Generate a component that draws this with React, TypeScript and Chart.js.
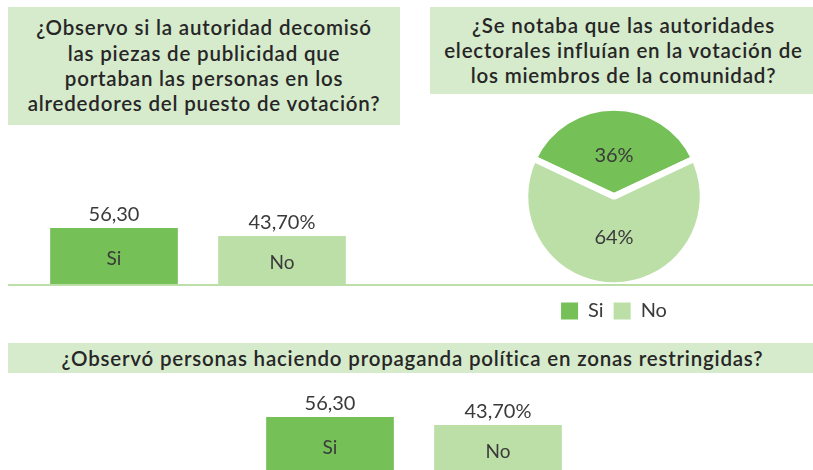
import React, { useEffect, useRef } from "react";
import { Chart, registerables } from "chart.js";

Chart.register(...registerables);

// ---------- data ----------
const barCategories = ["Si", "No"];
const decomisoValues = [56.3, 43.7];
const decomisoLabels = ["56,30", "43,70%"];
const propagandaValues = [56.3, 43.7];
const propagandaLabels = ["56,30", "43,70%"];
const pieCategories = ["Si", "No"];
const influenciaValues = [36, 64];
const influenciaLabels = ["36%", "64%"];

const titleDecomiso = [
  "¿Observo si la autoridad decomisó",
  "las piezas de publicidad que",
  "portaban las personas en los",
  "alrededores del puesto de votación?",
];
const titleInfluencia = [
  "¿Se notaba que las autoridades",
  "electorales influían en la votación de",
  "los miembros de la comunidad?",
];
const titlePropaganda = [
  "¿Observó personas haciendo propaganda política en zonas restringidas?",
];

// ---------- style ----------
const SI_COLOR = "#76C058";
const NO_COLOR = "#BCDFA8";
const TITLE_BG = "#D6EACC";
const TITLE_COLOR = "#262626";
const LABEL_COLOR = "#3A3A3A";
const FONT = "Lato, 'DejaVu Sans', sans-serif";

const AXIS_MIN = -33.5;
const AXIS_MAX = 210.7;

function makeBarLabelPlugin(categories: string[], valueLabels: string[]) {
  return {
    id: "barLabels",
    afterDatasetsDraw(chart: any) {
      const ctx = chart.ctx;
      const meta = chart.getDatasetMeta(0);
      meta.data.forEach((bar: any, i: number) => {
        const { x, y, base } = bar.getProps(["x", "y", "base"], true);
        ctx.save();
        ctx.fillStyle = LABEL_COLOR;
        ctx.textAlign = "center";
        ctx.textBaseline = "middle";
        ctx.font = `20px ${FONT}`;
        ctx.fillText(valueLabels[i], x, y - 13.5);
        ctx.font = `19px ${FONT}`;
        ctx.fillText(categories[i], x, (y + base) / 2 + 2.5);
        ctx.restore();
      });
    },
  };
}

function makePieLabelPlugin(labels: string[]) {
  return {
    id: "pieLabels",
    afterDatasetsDraw(chart: any) {
      const ctx = chart.ctx;
      const meta = chart.getDatasetMeta(0);
      meta.data.forEach((arc: any, i: number) => {
        const { x, y, startAngle, endAngle, outerRadius } = arc.getProps(
          ["x", "y", "startAngle", "endAngle", "outerRadius"],
          true
        );
        const mid = (startAngle + endAngle) / 2;
        const r = outerRadius * 0.46;
        ctx.save();
        ctx.fillStyle = LABEL_COLOR;
        ctx.textAlign = "center";
        ctx.textBaseline = "middle";
        ctx.font = `20px ${FONT}`;
        ctx.fillText(labels[i], x + Math.cos(mid) * r, y + Math.sin(mid) * r);
        ctx.restore();
      });
    },
  };
}

function BarChart(props: {
  values: number[];
  labels: string[];
  left: number;
  top: number;
}) {
  const ref = useRef<HTMLCanvasElement>(null);
  useEffect(() => {
    if (!ref.current) return;
    const chart = new Chart(ref.current, {
      type: "bar",
      data: {
        labels: barCategories,
        datasets: [
          {
            data: props.values,
            backgroundColor: [SI_COLOR, NO_COLOR],
            borderWidth: 0,
            base: AXIS_MIN,
            categoryPercentage: 1,
            barPercentage: 0.76,
          } as any,
        ],
      },
      options: {
        responsive: false,
        animation: false,
        layout: { padding: { left: 0, right: 0, top: 0, bottom: 5 } },
        scales: {
          x: { display: false },
          y: { display: false, min: AXIS_MIN, max: AXIS_MAX },
        },
        plugins: { legend: { display: false }, tooltip: { enabled: false } },
      },
      plugins: [makeBarLabelPlugin(barCategories, props.labels)],
    });
    return () => chart.destroy();
  }, []);
  return (
    <canvas
      ref={ref}
      width={336}
      height={160}
      style={{ position: "absolute", left: props.left, top: props.top, width: 336, height: 160 }}
    />
  );
}

function PieChart() {
  const ref = useRef<HTMLCanvasElement>(null);
  useEffect(() => {
    if (!ref.current) return;
    const total = influenciaValues.reduce((a, b) => a + b, 0);
    const chart = new Chart(ref.current, {
      type: "pie",
      data: {
        labels: pieCategories,
        datasets: [
          {
            data: influenciaValues,
            backgroundColor: [SI_COLOR, NO_COLOR],
            borderColor: "#FFFFFF",
            borderWidth: 6.5,
          },
        ],
      },
      options: {
        responsive: false,
        animation: false,
        rotation: -(influenciaValues[0] / total) * 180,
        radius: 89,
        layout: { padding: { left: 5, top: 4 } },
        plugins: {
          legend: {
            position: "bottom",
            labels: {
              boxWidth: 17,
              boxHeight: 17,
              padding: 10,
              color: LABEL_COLOR,
              font: { size: 20, family: FONT },
              generateLabels: (chart: any) =>
                Chart.overrides.pie.plugins.legend.labels
                  .generateLabels(chart)
                  .map((item: any) => ({ ...item, lineWidth: 0, strokeStyle: item.fillStyle })),
            },
          },
          tooltip: { enabled: false },
        },
      } as any,
      plugins: [makePieLabelPlugin(influenciaLabels)],
    });
    return () => chart.destroy();
  }, []);
  return (
    <canvas
      ref={ref}
      width={403}
      height={233}
      style={{ position: "absolute", left: 410, top: 98, width: 403, height: 233 }}
    />
  );
}

function TitleBox(props: {
  lines: string[];
  left: number;
  top: number;
  width: number;
  height: number;
  lineHeight: number;
  dx?: number;
}) {
  return (
    <div
      style={{
        position: "absolute",
        left: props.left,
        top: props.top,
        width: props.width,
        height: props.height,
        background: TITLE_BG,
        display: "flex",
        flexDirection: "column",
        justifyContent: "center",
        alignItems: "center",
        fontFamily: FONT,
        fontWeight: 600,
        fontSize: 20.5,
        letterSpacing: "0.8px",
        color: TITLE_COLOR,
      }}
    >
      {props.lines.map((l, i) => (
        <div
          key={i}
          style={{
            whiteSpace: "nowrap",
            lineHeight: `${props.lineHeight}px`,
            transform: `translateX(${props.dx || 0}px)`,
          }}
        >
          {l}
        </div>
      ))}
    </div>
  );
}

export default function App() {
  return (
    <div
      style={{
        position: "fixed",
        left: 0,
        top: 0,
        width: 813,
        height: 470,
        overflow: "hidden",
        background: "#FFFFFF",
      }}
    >
      <TitleBox lines={titleDecomiso} left={8} top={7} width={392} height={118} lineHeight={25.3} />
      <TitleBox lines={titleInfluencia} left={430} top={7} width={383} height={87} lineHeight={25} dx={2} />
      <TitleBox lines={titlePropaganda} left={8} top={343} width={805} height={30} lineHeight={30} dx={2} />
      <BarChart values={decomisoValues} labels={decomisoLabels} left={30} top={130} />
      <PieChart />
      <BarChart values={propagandaValues} labels={propagandaLabels} left={246} top={319} />
      <div
        style={{
          position: "absolute",
          left: 8,
          top: 284,
          width: 805,
          height: 2,
          background: NO_COLOR,
        }}
      />
    </div>
  );
}
